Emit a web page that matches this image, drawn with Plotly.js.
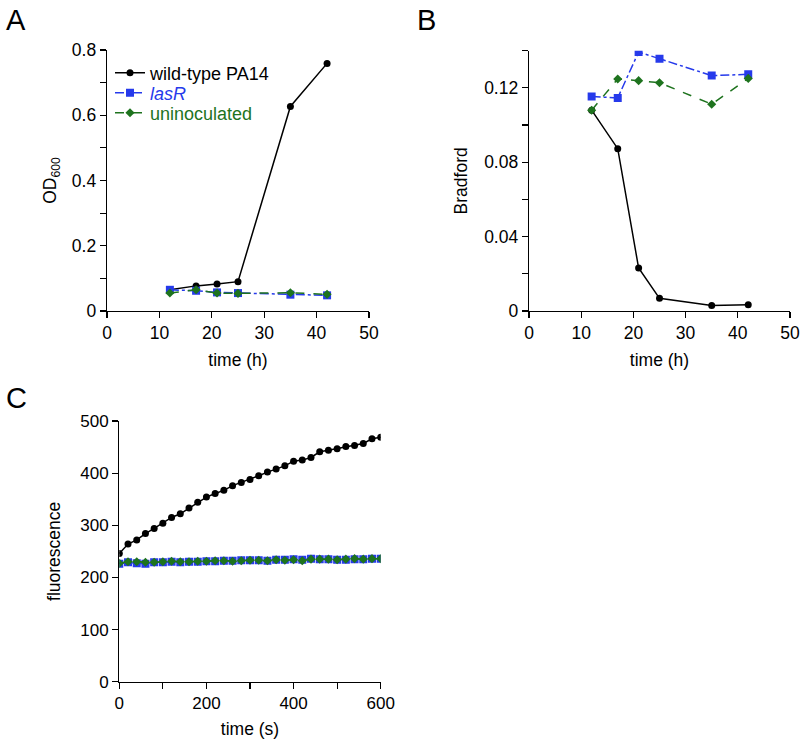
<!DOCTYPE html>
<html>
<head>
<meta charset="utf-8">
<script src="https://cdn.plot.ly/plotly-3.0.1.min.js"></script>
<style>html,body{margin:0;padding:0;background:#fff}#chart{width:800px;height:740px}</style>
</head>
<body>
<div id="chart"></div>
<script>
// Panel A / B: time (h)
const timeH = [12, 17, 21, 25, 35, 42];
const odWT = [0.065, 0.077, 0.083, 0.090, 0.627, 0.759];
const odLasR = [0.065, 0.062, 0.057, 0.055, 0.050, 0.048];
const odUninoc = [0.055, 0.065, 0.055, 0.054, 0.056, 0.051];

const bradWT = [0.108, 0.0873, 0.0231, 0.0068, 0.0029, 0.0034];
const bradLasR = [0.1153, 0.1146, 0.1393, 0.1357, 0.1266, 0.1273];
const bradUninoc = [0.108, 0.1248, 0.1239, 0.1228, 0.1112, 0.1251];

// Panel C: time (s)
const timeS = [0,20,40,60,80,100,120,140,160,180,200,220,240,260,280,300,320,340,360,380,400,420,440,460,480,500,520,540,560,580,600];
const fluoWT = [246,264,272,284,294,304,315,322,333,344,354,361,367,376,382,388,395,402,408,414,423,425,430,441,444,447,451,453,457,466,469];
const fluoLasR = [226,229,227,226,229,229,230,229,230,230,231,231,232,232,233,233,233,232,234,234,235,234,236,235,235,234,234,235,235,236,236];
const fluoUninoc = [227,230,230,229,229,230,231,230,230,231,231,232,232,231,232,233,233,232,234,233,234,232,235,235,235,234,235,236,235,236,236];

const seriesNames = ['wild-type PA14', 'lasR', 'uninoculated'];

const BLACK = '#000000';
const BLUE = 'rgb(38,58,235)';
const GREEN = 'rgb(30,115,30)';
const FONT = 'Liberation Sans, Arial, sans-serif';

function wt(x, y, xa, ya, show) {
  return {x: x, y: y, xaxis: xa, yaxis: ya, type: 'scatter', mode: 'lines+markers',
    name: seriesNames[0], showlegend: show, legend: 'legend',
    line: {color: BLACK, width: 1.5}, marker: {color: BLACK, symbol: 'circle', size: 7}};
}
function las(x, y, xa, ya, show) {
  return {x: x, y: y, xaxis: xa, yaxis: ya, type: 'scatter', mode: 'lines+markers',
    name: '<i><span style="color:' + BLUE + '">' + seriesNames[1] + '</span></i>', showlegend: show, legend: 'legend2',
    line: {color: BLUE, width: 1.5, dash: 'dashdot'}, marker: {color: BLUE, symbol: 'square', size: 8}};
}
function uni(x, y, xa, ya, show) {
  return {x: x, y: y, xaxis: xa, yaxis: ya, type: 'scatter', mode: 'lines+markers',
    name: '<span style="color:' + GREEN + '">' + seriesNames[2] + '</span>', showlegend: show, legend: 'legend3',
    line: {color: GREEN, width: 1.5, dash: 'dash'}, marker: {color: GREEN, symbol: 'diamond', size: 7}};
}

const data = [
  wt(timeH, odWT, 'x', 'y', true), las(timeH, odLasR, 'x', 'y', true), uni(timeH, odUninoc, 'x', 'y', true),
  wt(timeH, bradWT, 'x2', 'y2', false), las(timeH, bradLasR, 'x2', 'y2', false), uni(timeH, bradUninoc, 'x2', 'y2', false),
  wt(timeS, fluoWT, 'x3', 'y3', false), las(timeS, fluoLasR, 'x3', 'y3', false), uni(timeS, fluoUninoc, 'x3', 'y3', false)
];

const W = 800, H = 740;
function dx(a, b) { return [a / W, b / W]; }
function dy(top, bottom) { return [1 - bottom / H, 1 - top / H]; }

function axisBase(extra, fs) {
  return Object.assign({
    showline: true, linecolor: BLACK, linewidth: 1.3, mirror: false,
    showgrid: false, zeroline: false, ticks: 'outside', ticklen: 6, tickwidth: 1.2, tickcolor: BLACK,
    tickfont: {family: FONT, size: fs || 17.5, color: BLACK}, automargin: false, fixedrange: true
  }, extra);
}
function legendAt(yc) {
  return {x: 110 / W, y: 1 - yc / H, xanchor: 'left', yanchor: 'middle', bgcolor: 'rgba(0,0,0,0)',
    font: {family: FONT, size: 18, color: BLACK}, itemwidth: 30};
}
const TF = {family: FONT, size: 17.5, color: BLACK};

const layout = {
  width: W, height: H,
  margin: {l: 0, r: 0, t: 0, b: 0},
  paper_bgcolor: '#fff', plot_bgcolor: '#fff',
  font: {family: FONT, color: BLACK},
  showlegend: true,
  legend: legendAt(73),
  legend2: legendAt(93),
  legend3: legendAt(113),
  xaxis: axisBase({domain: dx(107, 369), range: [0, 50], dtick: 10, anchor: 'y',
    title: {text: 'time (h)', font: TF, standoff: 11}}),
  yaxis: axisBase({domain: dy(50, 311), range: [0, 0.8], dtick: 0.2, anchor: 'x',
    minor: {dtick: 0.1, ticks: 'outside', ticklen: 6, tickwidth: 1.2, tickcolor: BLACK, showgrid: false},
    title: {text: 'OD<sub>600</sub>', font: TF, standoff: 10}}),
  xaxis2: axisBase({domain: dx(529, 790), range: [0, 50], dtick: 10, anchor: 'y2',
    title: {text: 'time (h)', font: TF, standoff: 11}}),
  yaxis2: axisBase({domain: dy(50.7, 311), range: [0, 0.14], dtick: 0.04, tick0: 0, anchor: 'x2',
    minor: {dtick: 0.02, ticks: 'outside', ticklen: 6, tickwidth: 1.2, tickcolor: BLACK, showgrid: false},
    title: {text: 'Bradford', font: TF, standoff: 12}}),
  xaxis3: axisBase({domain: dx(119.3, 380.7), range: [0, 600], dtick: 200, anchor: 'y3',
    minor: {dtick: 100, ticks: 'outside', ticklen: 6, tickwidth: 1.2, tickcolor: BLACK, showgrid: false},
    title: {text: 'time (s)', font: TF, standoff: 10}}, 17),
  yaxis3: axisBase({domain: dy(421, 681.7), range: [0, 500], dtick: 100, anchor: 'x3',
    title: {text: 'fluorescence', font: TF, standoff: 15}}, 17),
  annotations: [
    {text: 'A', x: 4 / W, y: 1 - 2 / H, xref: 'paper', yref: 'paper', xanchor: 'left', yanchor: 'top', showarrow: false, font: {family: FONT, size: 29, color: BLACK}},
    {text: 'B', x: 415 / W, y: 1 - 2 / H, xref: 'paper', yref: 'paper', xanchor: 'left', yanchor: 'top', showarrow: false, font: {family: FONT, size: 29, color: BLACK}},
    {text: 'C', x: 4 / W, y: 1 - 380 / H, xref: 'paper', yref: 'paper', xanchor: 'left', yanchor: 'top', showarrow: false, font: {family: FONT, size: 29, color: BLACK}}
  ]
};

Plotly.newPlot('chart', data, layout, {staticPlot: true, displayModeBar: false});
</script>
</body>
</html>
